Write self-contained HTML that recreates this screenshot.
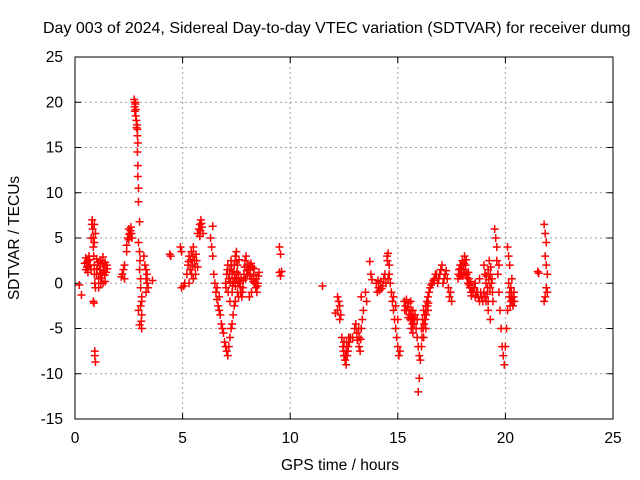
<!DOCTYPE html>
<html><head><meta charset="utf-8"><style>
body{margin:0;background:#fff;width:640px;height:480px;overflow:hidden;font-family:"Liberation Sans",sans-serif}
svg{display:block}
</style></head><body>
<svg id="chart" width="640" height="480" viewBox="0 0 640 480" font-family="Liberation Sans, sans-serif">
<text x="43" y="33" font-size="16" fill="#000">Day 003 of 2024, Sidereal Day-to-day VTEC variation (SDTVAR) for receiver dumg</text>
<g id="grid"></g>
<g id="axes"></g>
<g id="marks"></g>
<rect x="75" y="57" width="538" height="362" fill="none" stroke="#000" stroke-width="1"/>
<text x="340" y="470" font-size="15.5" text-anchor="middle">GPS time / hours</text>
<text transform="translate(19,238) rotate(-90)" font-size="15.5" text-anchor="middle">SDTVAR / TECUs</text>
</svg>
<script>
const xTicks=[0,5,10,15,20,25];
const yTicks=[-15,-10,-5,0,5,10,15,20,25];
const pts=[[0.2,-0.2],[0.3,-1.3],
[0.45,2.2],[0.5,2.8],[0.55,1.8],[0.6,2.5],[0.65,3],[0.7,2],[0.75,1.5],[0.6,1.2],[0.5,1.5],
[0.8,7],[0.82,6],[0.85,5],[0.85,4],[0.87,3],[0.9,2],[0.9,1],[0.92,0],[0.95,-0.5],[0.85,-2],[0.88,-2.2],[0.9,6.5],[0.95,5.5],[0.9,4.5],[0.92,-7.5],[0.92,-8],[0.95,-8.7],[0.75,5],[0.78,6.5],
[1.0,1],[1.05,2],[1.1,0.5],[1.15,1.5],[1.2,2.5],[1.25,1],[1.3,0],[1.35,1.8],[1.4,2.3],[1.45,1.2],[1.5,1.6],[1.1,-0.5],[1.2,0],[1.4,0.2],[1.0,2.7],[1.3,2.9],
[2.15,0.7],[2.2,1],[2.25,1.5],[2.3,0.5],[2.3,2],[2.4,3.5],[2.45,5],[2.5,6],[2.55,5.5],[2.6,6.2],[2.65,5],[2.5,4.8],[2.4,4.2],
[2.75,20.3],[2.8,19.8],[2.78,19],[2.82,18.5],[2.85,18],[2.8,20],[2.88,17.5],[2.9,17],[2.9,16.3],[2.92,15.5],[2.9,14.5],[2.92,13],[2.92,11.8],[2.95,10.5],[2.95,9],[3.0,6.8],[2.95,4.5],[3.0,3.5],[3.02,2.5],[3.0,1.5],[3.05,0.5],[3.05,-0.5],[3.1,-1.5],[3.05,-2.5],[3.1,-3.5],[3.08,-4.2],[3.1,-5],[3.0,-4.6],[2.95,-3],[3.1,-2],
[3.2,3],[3.25,2],[3.3,1.5],[3.3,0.5],[3.35,0],[3.3,-1],[3.4,-0.5],[3.35,1],[3.6,0.3],
[4.4,3.2],[4.45,3],[4.9,4],[4.95,3.5],[4.95,-0.5],[5.05,-0.3],[5.1,0],
[5.2,1],[5.25,2],[5.3,3],[5.35,1.5],[5.4,3.5],[5.45,2],[5.5,4],[5.55,2.5],[5.6,1],[5.65,2.5],[5.7,1.8],[5.3,0],[5.5,0.5],
[5.7,5.5],[5.75,6],[5.8,6.5],[5.85,7],[5.9,6.2],[5.95,5.5],[5.8,5.2],
[6.3,5],[6.35,4],[6.4,6.3],[6.4,3],[6.45,1],
[6.5,0],[6.55,-1],[6.6,-1.8],[6.65,-2.5],[6.7,-3],[6.75,-3.5],[6.8,-4.5],[6.85,-5],[6.9,-5.5],[6.95,-6.5],[7.0,-7],[7.05,-7.5],[7.1,-8],[7.15,-7],[7.2,-6],[7.25,-5],[7.3,-4.5],[7.35,-3.5],[7.4,-2.5],[7.45,-2],[6.6,-0.5],[6.7,-1.5],
[7.0,0],[7.05,1],[7.1,2],[7.15,0.5],[7.2,1.5],[7.25,2.5],[7.3,1],[7.35,0],[7.4,2],[7.45,3],[7.5,3.5],[7.55,2],[7.6,1],[7.65,0],[7.7,-1],[7.75,-1.5],[7.8,-0.5],[7.85,1],[7.9,2.5],[7.95,3],[8.0,2],[7.5,0.5],[7.6,-1.5],[7.3,-1],[7.2,-2],
[8.0,1],[8.1,2],[8.15,1.5],[8.2,0.5],[8.25,1.8],[8.3,1],[8.35,0],[8.4,-0.5],[8.45,-1],[8.5,0],[8.55,1.2],[8.1,-1.5],[8.2,-1],
[9.5,4],[9.55,3.2],[9.5,1.2],[9.55,0.8],[9.6,1.3],
[11.5,-0.3],
[12.2,-1.5],[12.25,-2],[12.3,-2.5],[12.2,-3],[12.35,-3.5],[12.3,-4],[12.1,-3.3],
[12.4,-6],[12.45,-7],[12.5,-8],[12.55,-8.5],[12.6,-9],[12.65,-8],[12.7,-7],[12.75,-6.5],[12.5,-6.5],[12.6,-7.5],[12.8,-6],
[12.9,-6],[13.0,-5],[13.1,-5.5],[13.2,-6],[13.3,-5],[13.35,-4],[13.2,-7],[13.25,-7.5],[13.4,-3],[13.3,-1.5],[13.05,-4.5],
[13.5,-1],[13.55,-2],[13.7,2.4],[13.75,1],[13.8,0.4],
[14.0,0],[14.05,-1],[14.1,-0.5],[14.2,0.2],[14.3,-0.3],[14.35,0.5],[14.4,1],[14.5,3],[14.55,3.3],[14.6,2],[14.55,0.5],
[14.6,1],[14.65,0],[14.7,-1],[14.75,-2],[14.8,-3],[14.85,-4],[14.9,-5],[14.95,-6],[15.0,-7],[15.05,-8],[15.1,-7.5],[14.8,-1.5],[14.9,-2.5],[15.0,-4],
[15.3,-2],[15.35,-2.5],[15.4,-3],[15.5,-2.2],[15.55,-3.5],[15.6,-2],[15.65,-4],[15.7,-3],[15.75,-4.5],[15.8,-3.5],[15.4,-1.8],
[15.85,-5],[15.9,-6],[15.95,-7],[16.0,-8],[16.05,-8.5],[16.0,-10.5],[15.95,-12],[15.9,-4],[16.1,-7],
[16.1,-5],[16.15,-4],[16.2,-3],[16.25,-3.5],[16.3,-2.5],[16.35,-2],[16.4,-1.5],[16.45,-1],[16.3,-5],[16.2,-6],[16.4,-3],
[16.5,-0.5],[16.6,0],[16.7,0.5],[16.8,1],[16.9,0.5],[17.0,1.5],[17.05,2],[17.1,0],[17.2,1],[17.3,0.5],[17.35,-0.5],[17.4,-1.5],[17.5,-2],[17.45,-1],
[17.8,0.5],[17.85,1.5],[17.9,2],[17.95,1],[18.0,2.5],[18.05,1.5],[18.1,3],[18.15,2],[18.2,1],[18.25,0],[18.3,0.5],[18.35,-0.5],[18.4,-1],[18.45,-0.5],
[18.5,-1],[18.6,-1.5],[18.7,-1],[18.8,-2],[18.9,-1.5],[19.0,-1],[19.1,-2],[19.2,-2],[18.6,0],[18.8,0.5],
[19.0,2],[19.05,1],[19.1,0],[19.2,1.5],[19.25,2.5],[19.3,1],[19.35,0],[19.4,-1],[19.2,-3],[19.3,-4],
[19.5,6],[19.55,5],[19.6,4],[19.6,2.5],[19.65,1],[19.7,-1],[19.75,-3],[19.8,-5],[19.85,-7],[19.9,-8],[19.95,-9],[20.0,-7],[20.05,-5],[20.1,-3],[19.7,2],
[20.1,4],[20.15,3],[20.2,2],[20.15,0],[20.2,-1],[20.25,-2],[20.3,-1.5],[20.35,-2.5],[20.4,-1],[20.3,0.5],
[21.5,1.3],[21.55,1.1],[21.8,6.5],[21.85,5.5],[21.9,4.5],[21.85,3],[21.9,2],[21.95,1],[21.9,-0.5],[21.85,-1.5],[21.8,-2],[21.95,-1]];
const extraPts=[[0.55,2.3],[0.62,1.9],[0.68,2.6],[1.02,1.6],[1.08,2.3],[1.18,1.1],[1.28,2.2],[1.38,0.9],[1.48,2.0],[1.22,0.6],[1.33,1.4],
[2.52,5.4],[2.58,5.8],[2.62,5.5],[2.77,19.5],[2.83,19.2],[2.86,17.2],
[5.28,2.4],[5.38,2.6],[5.48,3.0],[5.58,1.8],[5.42,1.0],[5.62,3.2],[5.82,5.8],[5.88,6.6],
[7.02,-0.5],[7.08,1.5],[7.12,-1],[7.18,1],[7.22,0.2],[7.28,2],[7.32,-0.3],[7.38,1.3],[7.42,0.6],[7.48,2.5],[7.52,1.2],[7.58,0.2],[7.62,2.6],[7.68,-0.4],[7.72,0.6],[7.78,-1],[7.82,0.3],[7.88,1.8],[7.92,0.5],[7.98,1.4],[7.55,-1],[7.45,-0.3],
[8.05,1.5],[8.12,0.8],[8.18,2.2],[8.28,0.2],[8.32,1.6],[8.42,0.5],[8.48,-0.3],[8.52,0.8],
[12.48,-7.5],[12.58,-8],[12.62,-6.5],[12.68,-7.5],[12.72,-6],[13.12,-6.3],[13.18,-5],[13.28,-6.2],
[14.08,0.3],[14.15,-0.8],[14.25,-0.6],[14.45,0],[14.52,2.5],
[15.32,-3],[15.45,-2.6],[15.52,-3],[15.58,-4],[15.62,-3],[15.68,-4.5],[15.72,-3.8],[15.78,-4],[15.48,-3.8],[15.62,-5],[15.7,-5.5],
[16.12,-6],[16.18,-5],[16.22,-4.5],[16.28,-4],[16.32,-3.5],[16.38,-2.5],[16.42,-2.2],
[16.55,-0.2],[16.65,0.3],[16.75,1],[16.85,0],[16.95,1],[17.15,0.5],[17.25,1.4],
[17.82,1],[17.88,0.8],[17.92,1.6],[17.98,2],[18.02,0.8],[18.08,2.2],[18.12,1.2],[18.18,2.6],[18.22,0.6],[18.28,1.2],[18.32,-0.2],[18.38,0.2],[18.42,-1.4],[18.55,-0.5],[18.65,-1],[18.75,-1.6],[18.85,-1],[18.95,-2],[19.05,-1.5],[19.15,-1.2],
[19.12,0.8],[19.18,-0.5],[19.22,0.4],[19.28,-0.5],[19.32,1.8],[19.38,0.5],[19.42,-2],
[20.18,-1.5],[20.22,-2.5],[20.28,-1],[20.32,-2],[20.38,-1.5],[20.42,-2],[20.25,-0.5]];
const NS='http://www.w3.org/2000/svg';
const X0=75,X1=613,Y0=419,Y1=57;
function sx(t){return X0+(t-0)/(25-0)*(X1-X0);}
function sy(v){return Y0-(v+15)/(40)*(Y0-Y1);}
function mk(tag,a,p){const e=document.createElementNS(NS,tag);for(const k in a)e.setAttribute(k,a[k]);p.appendChild(e);return e;}
const grid=document.getElementById('grid'),axes=document.getElementById('axes'),marks=document.getElementById('marks');
xTicks.forEach(t=>{const x=sx(t);
 if(t>0&&t<25){const g=mk('line',{x1:x,x2:x,y1:Y1,y2:Y0,stroke:'#a0a0a0','stroke-dasharray':'2,3'},grid);
 
 }
 mk('line',{x1:x,x2:x,y1:Y0,y2:Y0-6,stroke:'#000'},axes);mk('line',{x1:x,x2:x,y1:Y1,y2:Y1+6,stroke:'#000'},axes);
 const l=mk('text',{x:x,y:443,'font-size':'15.5','text-anchor':'middle'},axes);l.textContent=t;
 
 });
yTicks.forEach(v=>{const y=sy(v);
 if(v>-15&&v<25){const g=mk('line',{x1:X0,x2:X1,y1:y,y2:y,stroke:'#a0a0a0','stroke-dasharray':'2,3'},grid);
 
 }
 mk('line',{x1:X0,x2:X0+6,y1:y,y2:y,stroke:'#000'},axes);mk('line',{x1:X1,x2:X1-6,y1:y,y2:y,stroke:'#000'},axes);
 const l=mk('text',{x:63,y:y+5,'font-size':'15.5','text-anchor':'end'},axes);l.textContent=v;
 
 });
pts.concat(extraPts).forEach(p=>{const x=sx(p[0]),y=sy(p[1]);
 const e=mk('path',{d:`M${x-4},${y}h8M${x},${y-4}v8`,stroke:'#ff0000','stroke-width':'1.5',fill:'none'},marks);
 
 });
</script>
</body></html>
